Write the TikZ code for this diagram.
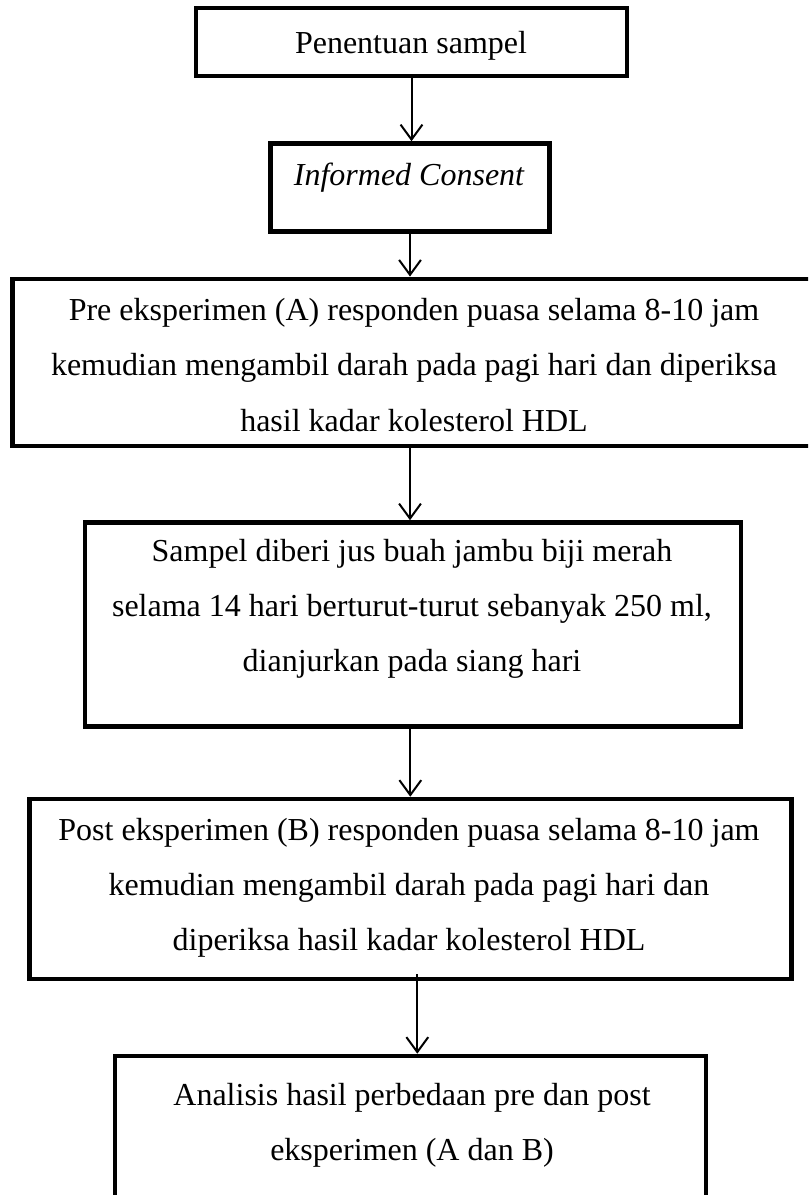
\documentclass[tikz,border=0pt]{standalone}
\usepackage{fontspec}
\setmainfont{Liberation Serif}
\usetikzlibrary{arrows.meta}
\newcommand\pxu{0.375pt}

\begin{document}
\begin{tikzpicture}[x=0.375pt, y=-0.375pt,
    box/.style={draw, line width=1.7pt, inner sep=0pt},
    txt/.style={align=center, font=\fontsize{12}{20.7}\selectfont, inner sep=0pt},
    arr/.style={line width=0.75pt, -{Straight Barb[length=5.6pt, width=8.2pt, line width=0.75pt]}}]
  \clip (0,0) rectangle (808,1195);
  % kotak
  \node[box, minimum width=431*\pxu, minimum height=68*\pxu] (b1) at (411.5,42) {};
  \node[box, minimum width=279*\pxu, minimum height=88*\pxu] (b2) at (410,187.5) {};
  \node[box, minimum width=807*\pxu, minimum height=167*\pxu] (b3) at (416,362.3) {};
  \node[box, minimum width=656*\pxu, minimum height=204*\pxu] (b4) at (413,624.5) {};
  \node[box, minimum width=762*\pxu, minimum height=180*\pxu] (b5) at (410.3,889) {};
  \node[box, minimum width=591*\pxu, minimum height=174*\pxu] (b6) at (410.5,1143) {};
  % teks
  \node[txt] (t1) at (411,46) {Penentuan sampel};
  \node[txt] (t2) at (409,177.5) {\itshape Informed Consent};
  \node[txt] (t3) at (414,365) {Pre eksperimen (A) responden puasa selama 8-10 jam\\
    kemudian mengambil darah pada pagi hari dan diperiksa\\ hasil kadar kolesterol HDL};
  \node[txt] (t4) at (412,609) {Sampel diberi jus buah jambu biji merah\\
    selama 14 hari berturut-turut sebanyak 250 ml,\\ dianjurkan pada siang hari};
  \node[txt] (t5) at (409,887.5) {Post eksperimen (B) responden puasa selama 8-10 jam\\
    kemudian mengambil darah pada pagi hari dan\\ diperiksa hasil kadar kolesterol HDL};
  \node[txt] (t6) at (412,1125.5) {Analisis hasil perbedaan pre dan post\\
    eksperimen (A dan B)};
  % panah
  \draw[arr] (b1.south) -- (b1.south |- b2.north);
  \draw[arr] (b2.south) -- (b2.south |- b3.north);
  \draw[arr] (b2.south |- b3.south) -- (b2.south |- b4.north);
  \draw[arr] (b4.south -| b5.north) -- (b5.north);
  \coordinate (c5) at ([shift={(7,-7)}]b5.south);
  \draw[arr] (c5) -- (c5 |- b6.north);
\end{tikzpicture}
\end{document}
